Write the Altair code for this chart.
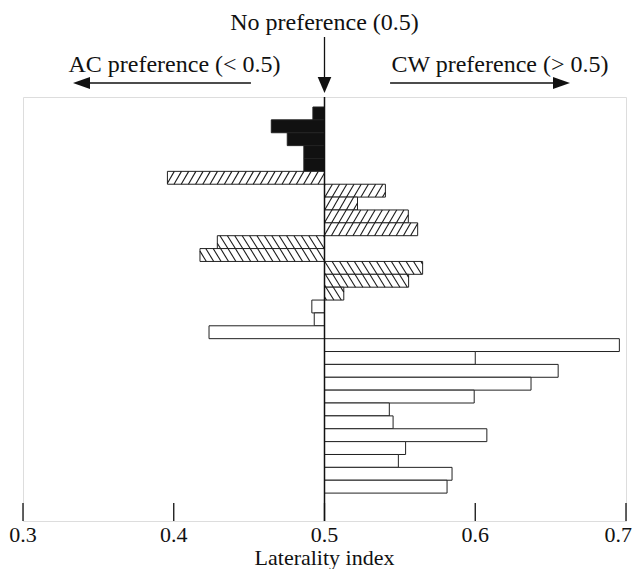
import altair as alt
import pandas as pd
import numpy as np

# ---- data (laterality index per individual, top to bottom) ----
solid_vals = [0.4923, 0.4647, 0.4753, 0.4863, 0.4863]
fwd_hatch_vals = [0.3958, 0.5404, 0.5219, 0.5556, 0.5618]
back_hatch_vals = [0.4289, 0.4174, 0.5651, 0.5558, 0.5128]
open_vals = [0.4916, 0.4932, 0.4234, 0.6956, 0.6000, 0.6550, 0.6370, 0.5993,
             0.5430, 0.5455, 0.6077, 0.5538, 0.5490, 0.5846, 0.5813]
x_ticks = [0.3, 0.4, 0.5, 0.6, 0.7]
center_value = 0.5
x_title = "Laterality index"
label_none = "No preference (0.5)"
label_ac = "AC preference (< 0.5)"
label_cw = "CW preference (> 0.5)"

# ---- layout constants ----
W, H = 603, 424
X_MIN, X_MAX = 0.3, 0.7
ROW_PX = 12.87
Y0 = -10 / ROW_PX
Y1 = Y0 + H / ROW_PX
SX = W / (X_MAX - X_MIN)
FONT = "Liberation Serif"
FS = 24
INK = "#111111"

values = solid_vals + fwd_hatch_vals + back_hatch_vals + open_vals
kinds = (["solid"] * len(solid_vals) + ["fwd"] * len(fwd_hatch_vals)
         + ["back"] * len(back_hatch_vals) + ["open"] * len(open_vals))
bars = pd.DataFrame({
    "value": values,
    "base": center_value,
    "row": np.arange(len(values)),
    "row_end": np.arange(len(values)) + 1,
    "kind": kinds,
})

# ---- hatch segments, derived from the bar extents ----
def hatch(df, direction, spacing=7.2, k=0.58):
    segs = []
    for _, r in df.iterrows():
        a, b = sorted([r["value"], r["base"]])
        A, B = (a - X_MIN) * SX, (b - X_MIN) * SX
        T, Bt = (r["row"] - Y0) * ROW_PX, (r["row_end"] - Y0) * ROW_PX
        if direction == "fwd":  # X = c - k*Y
            cmin, cmax = A + k * T, B + k * Bt
        else:                   # X = c + k*Y
            cmin, cmax = A - k * Bt, B - k * T
        for n in range(int(np.floor(cmin / spacing)), int(np.ceil(cmax / spacing)) + 1):
            c = n * spacing
            if direction == "fwd":
                lo, hi = (c - B) / k, (c - A) / k
            else:
                lo, hi = (A - c) / k, (B - c) / k
            ya, yb = max(lo, T), min(hi, Bt)
            if yb - ya < 0.5:
                continue
            if direction == "fwd":
                xa, xb = c - k * ya, c - k * yb
            else:
                xa, xb = c + k * ya, c + k * yb
            segs.append({
                "x": X_MIN + xa / SX, "x2": X_MIN + xb / SX,
                "y": Y0 + ya / ROW_PX, "y2": Y0 + yb / ROW_PX,
            })
    return segs

hatch_df = pd.DataFrame(hatch(bars[bars.kind == "fwd"], "fwd")
                        + hatch(bars[bars.kind == "back"], "back", spacing=7.4, k=0.62))

xscale = alt.Scale(domain=[X_MIN, X_MAX], nice=False, zero=False)
yscale = alt.Scale(domain=[Y0, Y1], nice=False, zero=False, reverse=True)

bar_layer = alt.Chart(bars).mark_rect(stroke="#222", strokeWidth=1).encode(
    x=alt.X("value:Q", scale=xscale, axis=None),
    x2="base:Q",
    y=alt.Y("row:Q", scale=yscale, axis=None),
    y2="row_end:Q",
    fill=alt.Fill("kind:N", scale=alt.Scale(domain=["solid", "fwd", "back", "open"],
                                            range=["#111", "white", "white", "white"]),
                  legend=None),
)

hatch_layer = alt.Chart(hatch_df).mark_rule(color="#1a1a1a", strokeWidth=1.1).encode(
    x=alt.X("x:Q", scale=xscale), x2="x2:Q",
    y=alt.Y("y:Q", scale=yscale), y2="y2:Q",
)

center_df = pd.DataFrame({"x": [center_value]})
center_rule = alt.Chart(center_df).mark_rule(color=INK, strokeWidth=1.5).encode(
    x=alt.X("x:Q", scale=xscale), y=alt.value(0), y2=alt.value(H)
)

# ---- x axis: inward ticks + labels ----
TICK_FS = 22
ticks_df = pd.DataFrame({"x": x_ticks, "label": [f"{t:.1f}" for t in x_ticks]})
tick_layer = alt.Chart(ticks_df).mark_rule(color=INK, strokeWidth=1.3).encode(
    x=alt.X("x:Q", scale=xscale), y=alt.value(H - 18), y2=alt.value(H)
)
tick_labels_mid = alt.Chart(ticks_df.iloc[:-1]).mark_text(
    font=FONT, fontSize=TICK_FS, color=INK, baseline="alphabetic", align="center"
).encode(x=alt.X("x:Q", scale=xscale), y=alt.value(H + 21), text="label:N")
tick_label_last = alt.Chart(ticks_df.iloc[-1:]).mark_text(
    font=FONT, fontSize=TICK_FS, color=INK, baseline="alphabetic", align="right", dx=6
).encode(x=alt.X("x:Q", scale=xscale), y=alt.value(H + 21), text="label:N")

title_df = pd.DataFrame({"x": [center_value], "label": [x_title]})
title_layer = alt.Chart(title_df).mark_text(
    font=FONT, fontSize=22, color=INK, baseline="alphabetic", align="center"
).encode(x=alt.X("x:Q", scale=xscale), y=alt.value(H + 44), text="label:N")

# ---- annotations above the frame ----
texts = pd.DataFrame({
    "x": [center_value, 0.4005, 0.6164],
    "label": [label_none, label_ac, label_cw],
    "py": [-67, -25, -25],
})
text_layer = alt.Chart(texts).mark_text(font=FONT, fontSize=FS, color=INK,
                                        baseline="alphabetic", align="center").encode(
    x=alt.X("x:Q", scale=xscale), y=alt.Y("py:Q", scale=None), text="label:N"
)

arrows = pd.DataFrame({
    "x": [0.3444, 0.5435], "x2": [0.4512, 0.6516], "py": [-14, -14],
})
arrow_lines = alt.Chart(arrows).mark_rule(color=INK, strokeWidth=1.3).encode(
    x=alt.X("x:Q", scale=xscale), x2="x2:Q", y=alt.Y("py:Q", scale=None)
)
vline_df = pd.DataFrame({"x": [center_value], "py": [-60], "py2": [-19]})
vline = alt.Chart(vline_df).mark_rule(color=INK, strokeWidth=1.3).encode(
    x=alt.X("x:Q", scale=xscale), y=alt.Y("py:Q", scale=None), y2="py2:Q"
)

heads = pd.DataFrame({
    "x": [0.3388, 0.6572, center_value],
    "py": [-14, -14, -12],
    "dir": ["left", "right", "down"],
})
head_layers = []
shapes = {
    "left": "M-1,0L1,-0.7L1,0.7Z",
    "right": "M1,0L-1,-0.7L-1,0.7Z",
    "down": "M0,1L-0.85,-1L0.85,-1Z",
}
for d, path in shapes.items():
    head_layers.append(
        alt.Chart(heads[heads.dir == d]).mark_point(
            shape=path, filled=True, color=INK, opacity=1, size=289 if d != "down" else 256,
            strokeWidth=0,
        ).encode(x=alt.X("x:Q", scale=xscale), y=alt.Y("py:Q", scale=None))
    )

chart = alt.layer(
    bar_layer, hatch_layer, center_rule, tick_layer, tick_labels_mid, tick_label_last,
    title_layer, text_layer, arrow_lines, vline, *head_layers
).properties(
    width=W, height=H,
    autosize=alt.AutoSizeParams(type="none"),
    padding={"left": 15, "top": 89, "right": 6, "bottom": 48},
).configure_view(stroke="black", strokeWidth=1.5).configure(background="white")

chart.save("out.html", embed_options={"renderer": "svg", "actions": False})
